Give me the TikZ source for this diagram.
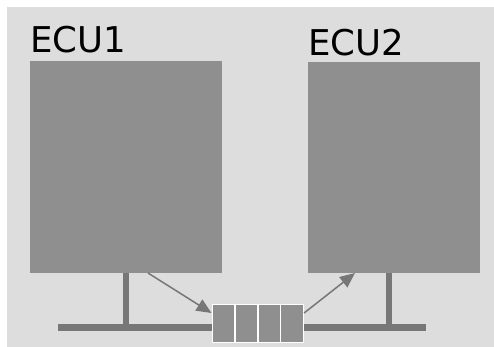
\documentclass[tikz,border=0pt]{standalone}
\usepackage{fontspec}
\setmainfont{DejaVu Sans}
\usetikzlibrary{arrows.meta}
\definecolor{bgc}{HTML}{DDDDDD}
\definecolor{boxc}{HTML}{8F8F8F}
\definecolor{busc}{HTML}{777777}
\begin{document}
\begin{tikzpicture}[x=1pt,y=-1pt,
  ecubox/.style={fill=boxc, draw=none, inner sep=0pt, anchor=north west},
  ecutext/.style={font=\fontsize{35.5}{40}\selectfont, inner sep=0pt, anchor=base west, text=black},
  busline/.style={draw=busc, line width=7pt},
  stub/.style={draw=busc, line width=5.5pt},
  cell/.style={fill=boxc, draw=white, line width=1.6pt, minimum width=22.75pt, minimum height=38pt, inner sep=0pt, anchor=north west},
  msgarrow/.style={draw=busc, line width=1.5pt, -{Triangle[length=15pt,width=13pt]}, fill=busc}
]
\useasboundingbox (0,0) rectangle (494,347);
\fill[bgc] (7,7) rectangle (494,347);
% bus
\coordinate (busL) at (58,327);
\coordinate (busR) at (426,327);
\draw[busline] (busL) -- (busR);
% ECU boxes
\node[ecubox, minimum width=192pt, minimum height=212pt] (ecu1) at (30,61) {};
\node[ecubox, minimum width=172pt, minimum height=211pt] (ecu2) at (308,62) {};
\node[ecutext] (t1) at (30,53) {ECU1};
\node[ecutext] (t2) at (308,56) {ECU2};
% stubs
\coordinate (s1) at (126,327);
\coordinate (s2) at (389,327);
\draw[stub] (ecu1.south west -| s1) -- (s1);
\draw[stub] (ecu2.south west -| s2) -- (s2);
% queue
\node[cell] (c1) at (211.5,303.5) {};
\node[cell] (c2) at (234.25,303.5) {};
\node[cell] (c3) at (257,303.5) {};
\node[cell] (c4) at (279.75,303.5) {};
% arrows
\coordinate (a1s) at (148,273);
\coordinate (a2e) at (355,273);
\draw[msgarrow] (a1s) -- (c1.west |- 0,313);
\draw[msgarrow] (c4.east |- 0,313) -- (a2e);
\end{tikzpicture}
\end{document}
